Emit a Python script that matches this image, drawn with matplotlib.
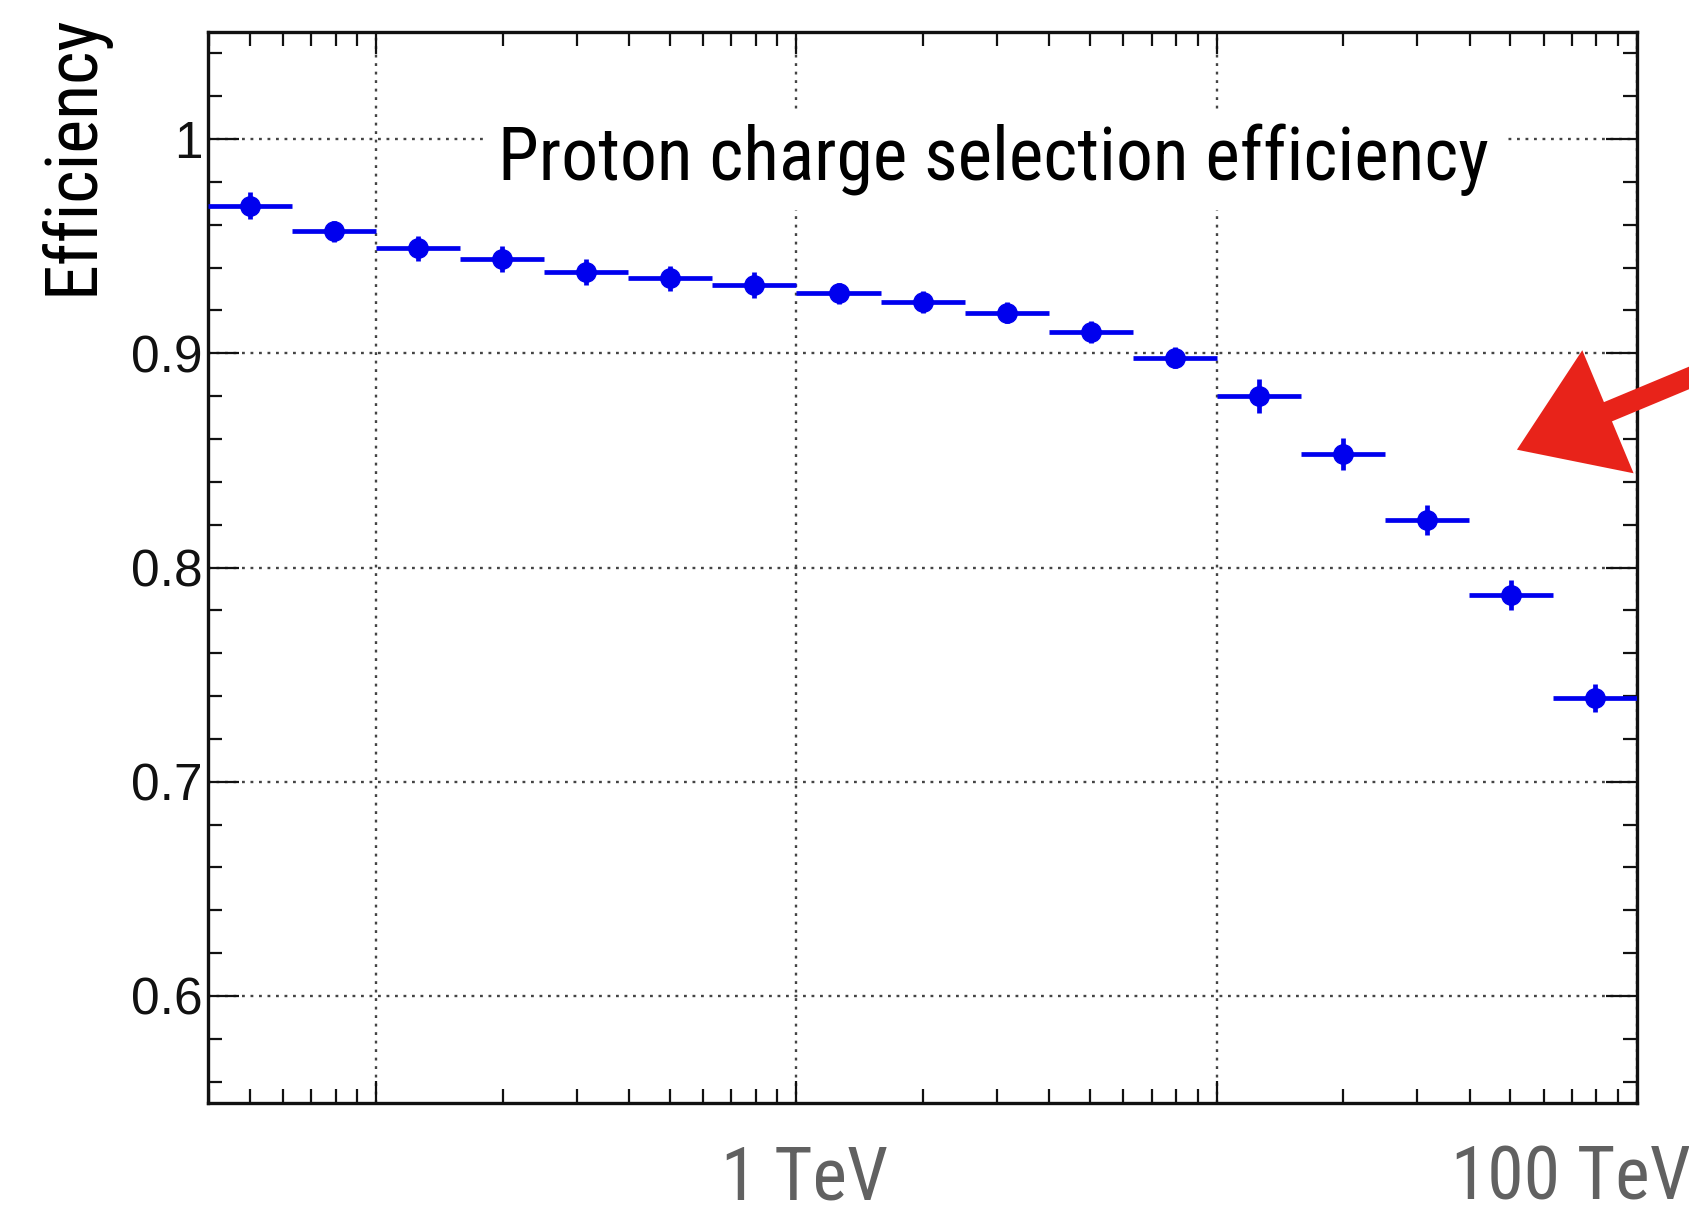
import numpy as np
import matplotlib
matplotlib.use("Agg")
import matplotlib.pyplot as plt
from matplotlib.ticker import FixedLocator, FixedFormatter, NullFormatter, LogLocator
from matplotlib.transforms import ScaledTranslation

# energy bins in TeV (log bins, 0.2 decade wide)
bin_edges = [0.0398, 0.0631, 0.1, 0.158, 0.251, 0.398, 0.631, 1.0, 1.585,
             2.512, 3.981, 6.31, 10.0, 15.85, 25.12, 39.81, 63.1, 100.0]
efficiency = [0.969, 0.957, 0.949, 0.944, 0.938, 0.935, 0.932, 0.928, 0.924,
              0.919, 0.910, 0.898, 0.880, 0.853, 0.822, 0.787, 0.739]
eff_err = [0.0065, 0.005, 0.006, 0.006, 0.006, 0.006, 0.006, 0.005, 0.005,
           0.005, 0.005, 0.005, 0.008, 0.0075, 0.007, 0.007, 0.0065]

y_ticks = [0.6, 0.7, 0.8, 0.9, 1.0]
y_labels = ["0.6", "0.7", "0.8", "0.9", "1"]
x_ticks = [0.1, 1, 10, 100]
x_labels = ["", "1 TeV", "", "100 TeV"]

cond = ["Roboto Condensed", "DejaVu Sans"]
helv = "Liberation Sans"

edges = np.array(bin_edges)
lo, hi = edges[:-1], edges[1:]
x = np.sqrt(lo * hi)

fig = plt.figure(figsize=(16.89, 12.09), dpi=100)
ax = fig.add_axes([0.1232, 0.0877, 0.8460, 0.8858])

ax.errorbar(x, efficiency, xerr=[x - lo, hi - x], yerr=eff_err, fmt="o",
            color="#0000ee", ms=14, elinewidth=3.4, capsize=0, zorder=3)

ax.set_xscale("log")
ax.set_xlim(bin_edges[0], bin_edges[-1])
ax.set_ylim(0.55, 1.05)

ax.yaxis.set_major_locator(FixedLocator(y_ticks))
ax.yaxis.set_major_formatter(FixedFormatter(y_labels))
ax.yaxis.set_minor_locator(FixedLocator(np.arange(0.56, 1.05, 0.02)))
ax.xaxis.set_major_locator(FixedLocator(x_ticks))
ax.xaxis.set_major_formatter(FixedFormatter(x_labels))
ax.xaxis.set_minor_locator(LogLocator(base=10, subs=np.arange(2, 10)))
ax.xaxis.set_minor_formatter(NullFormatter())

ax.tick_params(which="both", direction="in", top=True, right=True, width=1.6, color="#111")
ax.tick_params(axis="x", which="major", length=16, pad=29)
ax.tick_params(axis="x", which="minor", length=10)
ax.tick_params(axis="y", which="major", length=22, pad=4)
ax.tick_params(axis="y", which="minor", length=10)
for lab in ax.get_yticklabels():
    lab.set_fontfamily(helv)
    lab.set_fontsize(37)
    lab.set_color("#111")
for lab in ax.get_xticklabels():
    lab.set_fontfamily(cond)
    lab.set_fontsize(53)
    lab.set_color("#616161")
lab1 = ax.get_xticklabels()[1]
lab1.set_transform(lab1.get_transform() + ScaledTranslation(0.08, 0, fig.dpi_scale_trans))
lab100 = ax.get_xticklabels()[3]
lab100.set_transform(lab100.get_transform() + ScaledTranslation(-0.66, 0, fig.dpi_scale_trans))

for s in ax.spines.values():
    s.set_linewidth(2.4)
    s.set_color("#111")

ax.grid(True, which="major", color="#444", linestyle=(0, (1.2, 2.4)), linewidth=1.7)

ax.text(0.5498, 0.881, "Proton charge selection efficiency", transform=ax.transAxes,
        ha="center", va="center", fontsize=53, family=cond,
        bbox=dict(facecolor="white", edgecolor="none", pad=10), zorder=4)

fig.text(0.043, 0.872, "Efficiency", rotation=90, ha="center", va="center",
         fontsize=52, family=cond)

# red hand drawn arrow
ax.annotate("", xy=(51.8, 0.855), xycoords="data",
            xytext=(1.058, 0.689), textcoords="axes fraction",
            arrowprops=dict(arrowstyle="simple,head_length=1.42,head_width=1.92,tail_width=0.3",
                            mutation_scale=50, color="#e8231a", lw=0, shrinkA=0, shrinkB=0),
            annotation_clip=False, zorder=5)

plt.savefig("out.png", dpi=100)
